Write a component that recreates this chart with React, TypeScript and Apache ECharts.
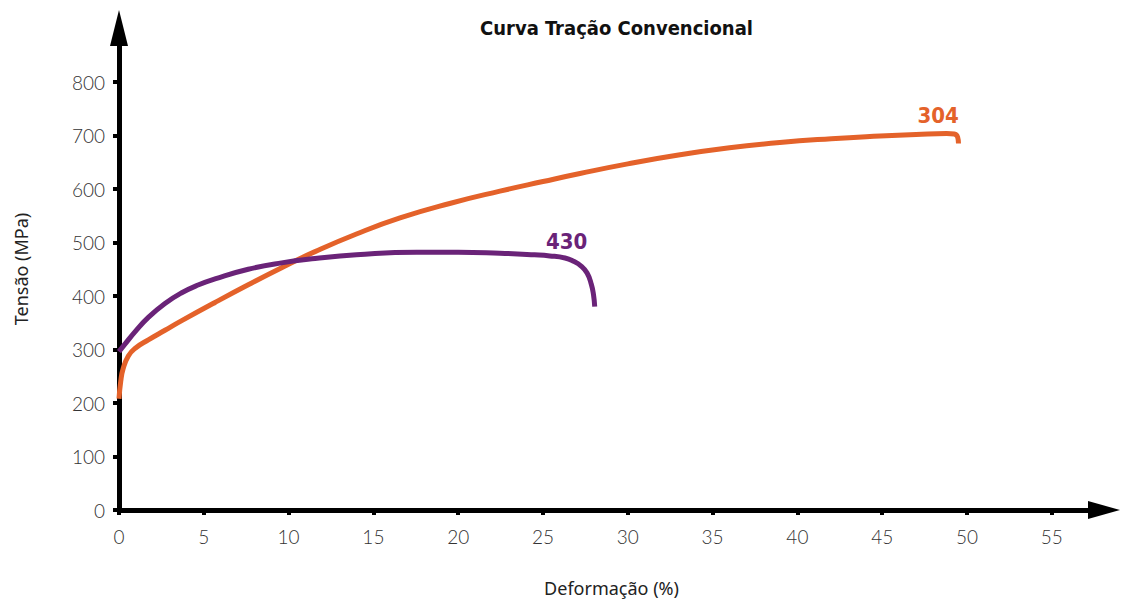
import React, { useEffect, useRef } from "react";
import * as echarts from "echarts";

const titleText = "Curva Tração Convencional";
const xName = "Deformação (%)";
const yName = "Tensão (MPa)";
const xTicks = [0, 5, 10, 15, 20, 25, 30, 35, 40, 45, 50, 55];
const yTicks = [0, 100, 200, 300, 400, 500, 600, 700, 800];

// Steel 304 (strain %, stress MPa)
const s304: [number, number][] = [
  [0, 208], [0.1, 240], [0.25, 265], [0.55, 288], [0.94, 302], [1.73, 318], [2.71, 336],
  [3.7, 354], [5.66, 388], [7.62, 421], [9.59, 453], [11.56, 483], [14, 516], [16.57, 546],
  [19.5, 573], [22.46, 596], [25, 614], [27.18, 629], [30, 647], [33.08, 664], [36, 677],
  [38.97, 687], [42, 694], [44.87, 699], [47, 702], [48.8, 704], [49.25, 703], [49.45, 697],
  [49.5, 685],
];

// Steel 430
const s430: [number, number][] = [
  [0, 296], [0.35, 310], [0.94, 333], [1.73, 360], [2.71, 386], [3.7, 406], [4.7, 421],
  [5.66, 432], [7.62, 450], [9.59, 462], [11.56, 470], [14, 477], [17.55, 482], [20, 482],
  [22.46, 480], [24.5, 477], [25.4, 475], [26.3, 471], [26.8, 465], [27.25, 456], [27.6, 443],
  [27.85, 422], [27.98, 402], [28.05, 380],
];

const label304 = { text: "304", coord: [48.3, 737] };
const label430 = { text: "430", coord: [26.4, 501] };

const ORANGE = "#E4622A";
const PURPLE = "#6A2378";

function markLabel(lbl: { text: string; coord: number[] }, color: string) {
  return {
    symbol: "circle",
    symbolSize: 0,
    data: [{ coord: lbl.coord, value: lbl.text }],
    label: {
      show: true,
      position: "inside",
      formatter: lbl.text,
      fontFamily: "DejaVu Sans Condensed",
      fontWeight: "bold",
      fontSize: 22,
      color,
    },
  };
}

export default function App() {
  const ref = useRef<HTMLDivElement>(null);
  useEffect(() => {
    document.body.style.margin = "0";
    const chart = echarts.init(ref.current!, null, { renderer: "svg" });
    const tickFont = { fontFamily: "Lato", fontWeight: 300 as any, fontSize: 19, color: "#333" };
    chart.setOption({
      animation: false,
      backgroundColor: "#ffffff",
      title: {
        text: titleText,
        left: 611.5,
        top: 13,
        textAlign: "center",
        textStyle: { fontFamily: "DejaVu Sans Condensed", fontWeight: "bold", fontSize: 20, color: "#111" },
      },
      grid: { left: 119, width: 985, top: 28, height: 482, containLabel: false },
      xAxis: {
        type: "value",
        min: 0,
        max: 58.08,
        splitLine: { show: false },
        name: xName,
        nameLocation: "middle",
        nameGap: 69,
        nameTextStyle: { fontFamily: "Noto Sans", fontSize: 18, color: "#222" },
        axisLine: {
          lineStyle: { color: "#000", width: 5 },
          symbol: ["none", "triangle"],
          symbolSize: [18, 32],
        },
        axisTick: { show: true, customValues: xTicks, length: 5, lineStyle: { width: 4, color: "#000" } },
        axisLabel: { customValues: xTicks, margin: 17, ...tickFont },
      },
      yAxis: {
        type: "value",
        min: 0,
        max: 901,
        splitLine: { show: false },
        name: yName,
        nameLocation: "middle",
        nameGap: 89,
        nameTextStyle: { fontFamily: "Noto Sans", fontSize: 18, color: "#222" },
        axisLine: {
          show: true,
          lineStyle: { color: "#000", width: 5 },
          symbol: ["none", "triangle"],
          symbolSize: [18, 36],
        },
        axisTick: { show: true, customValues: yTicks, length: 6, lineStyle: { width: 4, color: "#000" } },
        axisLabel: { customValues: yTicks, margin: 14, ...tickFont },
      },
      series: [
        {
          name: "304",
          type: "line",
          data: s304,
          showSymbol: false,
          smooth: 0.5,
          lineStyle: { color: ORANGE, width: 5 },
          itemStyle: { color: ORANGE },
          markPoint: markLabel(label304, ORANGE),
        },
        {
          name: "430",
          type: "line",
          data: s430,
          showSymbol: false,
          smooth: 0.5,
          lineStyle: { color: PURPLE, width: 5 },
          itemStyle: { color: PURPLE },
          markPoint: markLabel(label430, PURPLE),
        },
      ],
    });
    return () => chart.dispose();
  }, []);
  return (
    <div
      ref={ref}
      style={{ position: "fixed", left: 0, top: 0, width: 1121, height: 604, background: "#fff" }}
    />
  );
}
